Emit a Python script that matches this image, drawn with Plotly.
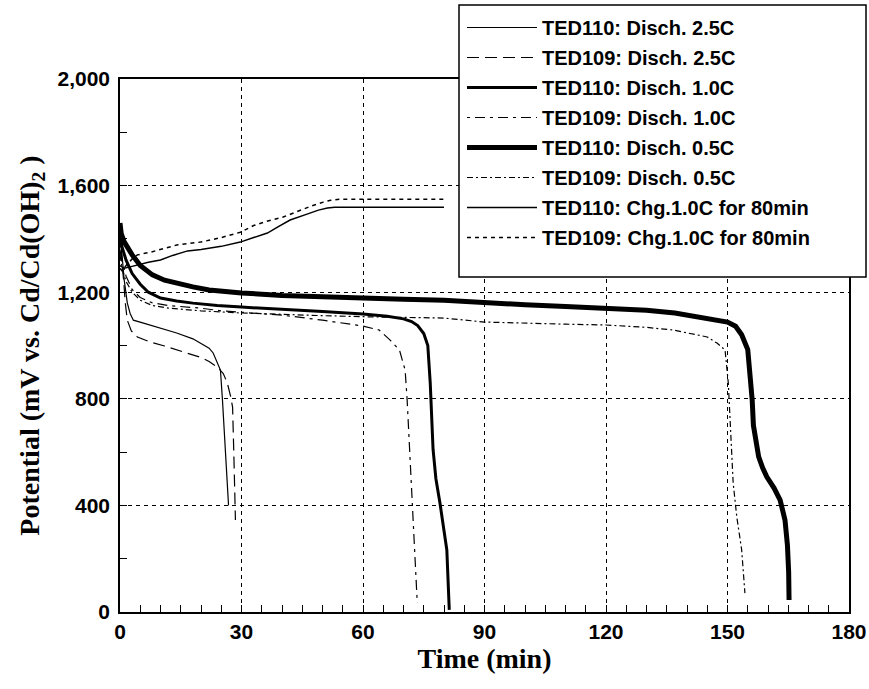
import plotly.graph_objects as go

# ---- data (time in min, potential in mV) ----
t110_25 = [0, 0.5, 1, 1.8, 2.5, 3.3, 5.8, 10, 14, 18, 20, 22, 23, 24, 24.8, 25.3, 26, 26.8]
v110_25 = [1400, 1340, 1250, 1160, 1120, 1095, 1084, 1065, 1047, 1025, 1009, 990, 972, 940, 908, 795, 600, 400]

t109_25 = [0, 0.4, 0.9, 1.3, 1.8, 2.8, 4.3, 7.5, 11, 14, 17, 20, 22, 24, 25.5, 26.5, 27.3, 27.8, 28.1, 28.5]
v109_25 = [1360, 1320, 1245, 1160, 1095, 1055, 1032, 1013, 998, 983, 968, 955, 940, 919, 895, 859, 810, 769, 597, 345]

t110_10 = [0, 0.5, 1.5, 3, 5, 7, 10, 14, 18, 24, 30, 35, 40, 50, 60, 66, 70, 72, 73.5, 75, 76, 76.6, 77.3, 78, 79, 80, 80.7, 81.3]
v110_10 = [1420, 1370, 1320, 1270, 1230, 1200, 1178, 1167, 1159, 1150, 1144, 1140, 1138, 1128, 1118, 1110, 1100, 1090, 1075, 1045, 1000, 860, 610, 500, 409, 300, 233, 8]

t109_10 = [0, 0.5, 1.5, 3, 5, 8, 12, 16, 20, 25, 30, 40, 50, 60, 64, 66.7, 69, 70.4, 70.9, 71.5, 72.2, 72.8, 73.4]
v109_10 = [1380, 1320, 1260, 1210, 1180, 1160, 1150, 1145, 1140, 1130, 1125, 1114, 1095, 1073, 1058, 1020, 983, 908, 795, 600, 394, 200, 34]

t110_05 = [0, 0.3, 1, 2, 3, 5, 8, 11, 14, 18, 22, 26, 30, 40, 50, 60, 70, 80, 90, 100, 110, 120, 130, 137, 142, 146, 150,
           152, 153.5, 155, 155.6, 156.1, 156.4, 157, 157.7, 158.7, 159.7, 161.5, 163, 164.2, 164.8, 165.1, 165.2]
v110_05 = [1460, 1420, 1390, 1365, 1340, 1300, 1265, 1245, 1233, 1220, 1208, 1202, 1197, 1188, 1182, 1178, 1174, 1170, 1160,
           1153, 1146, 1140, 1132, 1122, 1110, 1100, 1088, 1072, 1040, 985, 900, 795, 700, 630, 582, 540, 507, 465, 420,
           345, 250, 150, 45]

t109_05 = [0, 0.5, 1.5, 3, 5, 8, 12, 16, 20, 30, 40, 50, 60, 70, 80, 90, 100, 110, 120, 130, 136.6, 141, 145, 147.4,
           149.4, 150.2, 150.6, 151.4, 152.3, 153.5, 154.3]
v109_05 = [1340, 1290, 1240, 1200, 1170, 1150, 1140, 1135, 1130, 1122, 1116, 1112, 1108, 1105, 1103, 1088, 1083, 1080,
           1077, 1068, 1058, 1045, 1032, 1009, 983, 859, 732, 484, 356, 233, 71]

t110_chg = [0, 1, 2.5, 4.3, 7, 10, 13, 16.7, 20, 25, 29.7, 33, 36.4, 39, 42, 46, 49, 51.2, 53, 56, 60, 70, 80]
v110_chg = [1300, 1290, 1295, 1302, 1312, 1321, 1338, 1355, 1360, 1372, 1388, 1405, 1422, 1445, 1471, 1492, 1508, 1516,
            1519, 1519, 1519, 1519, 1519]

t109_chg = [0, 0.5, 1.5, 3, 4.3, 8, 14, 19.9, 25, 29.7, 33, 36, 40.3, 44, 47, 50.2, 52, 54.4, 60, 70, 80]
v109_chg = [1290, 1280, 1300, 1325, 1340, 1352, 1377, 1388, 1405, 1425, 1450, 1465, 1482, 1505, 1522, 1538, 1545, 1549,
            1549, 1549, 1549]

names = ["TED110: Disch. 2.5C", "TED109: Disch. 2.5C", "TED110: Disch. 1.0C", "TED109: Disch. 1.0C",
         "TED110: Disch. 0.5C", "TED109: Disch. 0.5C", "TED110: Chg.1.0C for 80min", "TED109: Chg.1.0C for 80min"]

x_ticks = [0, 30, 60, 90, 120, 150, 180]
y_ticks = [0, 400, 800, 1200, 1600, 2000]

series = [
    (t110_25, v110_25, dict(color="black", width=1.2, dash="solid")),
    (t109_25, v109_25, dict(color="black", width=1.2, dash="12px,6px")),
    (t110_10, v110_10, dict(color="black", width=3, dash="solid")),
    (t109_10, v109_10, dict(color="black", width=1.2, dash="3px,5px,10px,5px")),
    (t110_05, v110_05, dict(color="black", width=5, dash="solid")),
    (t109_05, v109_05, dict(color="black", width=1.2, dash="6px,3px,2px,3px")),
    (t110_chg, v110_chg, dict(color="black", width=1.5, dash="solid")),
    (t109_chg, v109_chg, dict(color="black", width=1.5, dash="4px,4px")),
]

fig = go.Figure()
for i, ((tx, vy, ln), nm) in enumerate(zip(series, names)):
    fig.add_trace(go.Scatter(x=tx, y=vy, mode="lines", name=nm, line=ln, legendgroup=str(i)))

W, H = 869, 689
ML, MR, MT, MB = 120, 20, 79, 77
PW, PH = W - ML - MR, H - MT - MB

def px_x(p):
    return (p - ML) / PW

def px_y(p):
    return (H - MB - p) / PH

tickfont = dict(family="Liberation Sans, Arial", size=21, color="black", weight="bold")
titlefont = dict(family="Liberation Serif, Times New Roman, serif", size=28, color="black")

# legend frame
fig.add_shape(type="rect", xref="paper", yref="paper",
              x0=px_x(459), x1=px_x(866), y0=px_y(277), y1=px_y(5),
              line=dict(color="black", width=1.5), fillcolor="white", layer="above")

fig.update_layout(
    width=W, height=H,
    margin=dict(l=ML, r=MR, t=MT, b=MB, autoexpand=False),
    paper_bgcolor="white", plot_bgcolor="white",
    showlegend=True,
    legend=dict(
        x=px_x(462), y=px_y(8), xanchor="left", yanchor="top",
        bgcolor="rgba(0,0,0,0)", borderwidth=0,
        font=dict(family="Liberation Sans, Arial", size=20, color="black", weight="bold"),
        itemwidth=70, tracegroupgap=1,
    ),
    xaxis=dict(
        range=[0, 180], tickvals=x_ticks, ticktext=[str(v) for v in x_ticks],
        showline=True, linecolor="black", linewidth=1.5, mirror=True,
        ticks="inside", ticklen=7, tickcolor="black",
        minor=dict(dtick=5, ticks="inside", ticklen=7, tickcolor="black", showgrid=False),
        showgrid=True, gridcolor="black", gridwidth=1, griddash="4px,4px",
        zeroline=False,
        tickfont=tickfont, ticklabelstandoff=0,
        title=dict(text="<b>Time (min)</b>", font=titlefont, standoff=4),
    ),
    yaxis=dict(
        range=[0, 2000], tickvals=y_ticks, tickformat=",d",
        showline=True, linecolor="black", linewidth=1.5, mirror=True,
        ticks="inside", ticklen=7, tickcolor="black",
        minor=dict(dtick=200, ticks="inside", ticklen=7, tickcolor="black", showgrid=False),
        showgrid=True, gridcolor="black", gridwidth=1, griddash="4px,4px",
        zeroline=False,
        tickfont=tickfont, ticklabelstandoff=4,
        title=dict(text="<b>Potential (mV vs. Cd/Cd(OH)<sub>2</sub> )</b>", font=titlefont, standoff=10),
    ),
)

fig.write_html("out.html", config={"displayModeBar": False},
               post_script="document.body.style.margin='0';document.body.style.overflow='hidden';")
